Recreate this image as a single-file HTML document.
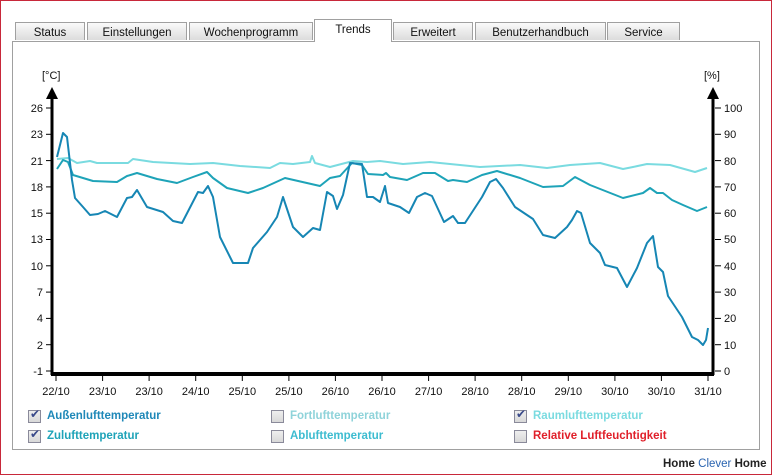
<!DOCTYPE html>
<html><head><meta charset="utf-8"><style>
html,body{margin:0;padding:0;background:#fff}
body{width:772px;height:475px;position:relative;overflow:hidden;font-family:"Liberation Sans",Arial,sans-serif}
.frame{position:absolute;left:0;top:0;width:770px;height:473px;border:1px solid #c8283a}
.tab{position:absolute;top:22px;height:18px;border:1px solid #a0a0a0;border-bottom:none;background:linear-gradient(#fafafa,#dcdcdc);font-size:11.5px;text-align:center;line-height:20px;color:#111;box-sizing:border-box}
.tab.act{top:19px;height:23px;background:#fff;line-height:20px;z-index:2}
.panel{position:absolute;left:12px;top:41px;width:748px;height:409px;border:1px solid #a0a0a0;box-sizing:border-box;background:#fff}
.leg{position:absolute;font-size:11.5px;font-weight:bold}
.cb{position:absolute;width:11px;height:11px;border:1px solid #8a8a9a;background:linear-gradient(#eee,#d8d8d8)}
.ck{position:absolute;font-size:12px;color:#3a4a8a}
</style></head><body>
<div class="frame"></div>
<div class="panel"></div>
<div class="tab" style="left:15px;width:70px">Status</div>
<div class="tab" style="left:87px;width:100px">Einstellungen</div>
<div class="tab" style="left:189px;width:124px">Wochenprogramm</div>
<div class="tab act" style="left:314px;width:78px">Trends</div>
<div class="tab" style="left:393px;width:80px">Erweitert</div>
<div class="tab" style="left:475px;width:131px">Benutzerhandbuch</div>
<div class="tab" style="left:607px;width:73px">Service</div>
<svg width="772" height="475" style="position:absolute;left:0;top:0" font-family="Liberation Sans, Arial, sans-serif" font-size="11">
<g fill="none" stroke-width="2" stroke-linejoin="round">
<polyline stroke="#7adbe0" points="57,159 68,158 77,163 90,161 97,163 128,163 133,159 153,162 190,164 213,163 240,166 270,168 280,163 293,164 310,162 312,156 315,163 330,167 353,161 367,162 380,161 403,164 430,162 480,167 520,165 547,168 570,165 600,163 623,169 633,167 647,164 670,165 695,172 707,168"/>
<polyline stroke="#1ea3b8" points="57,169 63,160 68,162 73,175 83,178 93,181 117,182 127,176 137,173 157,179 177,183 193,177 207,172 213,178 227,188 248,193 263,188 285,178 320,186 330,178 340,176 352,163 362,165 368,174 383,175 386,173 390,177 407,180 423,173 435,173 448,181 453,180 467,182 482,175 497,171 520,178 543,187 563,186 575,177 590,185 623,198 643,193 650,188 657,193 663,193 672,200 683,205 697,211 707,207"/>
<polyline stroke="#1686b4" points="57,157 63,133 67,137 72,180 75,198 83,207 90,215 98,214 105,211 117,217 127,198 132,197 137,190 147,207 163,212 173,221 182,223 198,192 203,193 208,186 213,197 220,237 233,263 248,263 253,248 267,232 277,217 283,197 293,227 303,237 313,228 320,230 327,192 333,196 337,209 343,195 350,163 362,164 367,197 373,197 380,202 385,186 388,203 400,207 409,213 417,197 425,193 432,196 444,222 453,216 458,223 465,223 482,197 490,182 496,179 503,188 515,207 533,219 543,235 555,238 567,227 572,220 577,211 581,213 590,243 600,253 605,265 617,268 627,287 637,268 647,243 653,236 658,267 663,272 668,296 682,317 692,337 698,340 703,345 706,340 708,328"/>
</g>
<g stroke="#000">
<line x1="52" y1="97" x2="52" y2="375" stroke-width="3"/>
<line x1="713" y1="97" x2="713" y2="375" stroke-width="3"/>
<line x1="51" y1="374" x2="714" y2="374" stroke-width="4"/>
</g>
<polygon points="52,87 46,99 58,99" fill="#000"/>
<polygon points="713,87 707,99 719,99" fill="#000"/>
<g stroke="#000" stroke-width="1">
<line x1="46" y1="108" x2="51" y2="108"/><line x1="46" y1="134.3" x2="51" y2="134.3"/><line x1="46" y1="160.6" x2="51" y2="160.6"/><line x1="46" y1="186.9" x2="51" y2="186.9"/><line x1="46" y1="213.2" x2="51" y2="213.2"/><line x1="46" y1="239.5" x2="51" y2="239.5"/><line x1="46" y1="265.8" x2="51" y2="265.8"/><line x1="46" y1="292.1" x2="51" y2="292.1"/><line x1="46" y1="318.4" x2="51" y2="318.4"/><line x1="46" y1="344.7" x2="51" y2="344.7"/><line x1="46" y1="371" x2="51" y2="371"/>
<line x1="715" y1="108" x2="721" y2="108"/><line x1="715" y1="134.3" x2="721" y2="134.3"/><line x1="715" y1="160.6" x2="721" y2="160.6"/><line x1="715" y1="186.9" x2="721" y2="186.9"/><line x1="715" y1="213.2" x2="721" y2="213.2"/><line x1="715" y1="239.5" x2="721" y2="239.5"/><line x1="715" y1="265.8" x2="721" y2="265.8"/><line x1="715" y1="292.1" x2="721" y2="292.1"/><line x1="715" y1="318.4" x2="721" y2="318.4"/><line x1="715" y1="344.7" x2="721" y2="344.7"/><line x1="715" y1="371" x2="721" y2="371"/>
<line x1="56" y1="376" x2="56" y2="381"/><line x1="102.6" y1="376" x2="102.6" y2="381"/><line x1="149.1" y1="376" x2="149.1" y2="381"/><line x1="195.7" y1="376" x2="195.7" y2="381"/><line x1="242.3" y1="376" x2="242.3" y2="381"/><line x1="288.9" y1="376" x2="288.9" y2="381"/><line x1="335.4" y1="376" x2="335.4" y2="381"/><line x1="382" y1="376" x2="382" y2="381"/><line x1="428.6" y1="376" x2="428.6" y2="381"/><line x1="475.1" y1="376" x2="475.1" y2="381"/><line x1="521.7" y1="376" x2="521.7" y2="381"/><line x1="568.3" y1="376" x2="568.3" y2="381"/><line x1="614.9" y1="376" x2="614.9" y2="381"/><line x1="661.4" y1="376" x2="661.4" y2="381"/><line x1="708" y1="376" x2="708" y2="381"/>
</g>
<g fill="#111" text-anchor="end">
<text x="43" y="112">26</text><text x="43" y="138">23</text><text x="43" y="165">21</text><text x="43" y="191">18</text><text x="43" y="217">15</text><text x="43" y="243">13</text><text x="43" y="270">10</text><text x="43" y="296">7</text><text x="43" y="322">4</text><text x="43" y="349">2</text><text x="43" y="375">-1</text>
</g>
<g fill="#111">
<text x="724" y="112">100</text><text x="724" y="138">90</text><text x="724" y="165">80</text><text x="724" y="191">70</text><text x="724" y="217">60</text><text x="724" y="243">50</text><text x="724" y="270">40</text><text x="724" y="296">30</text><text x="724" y="322">20</text><text x="724" y="349">10</text><text x="724" y="375">0</text>
<text x="42" y="79">[°C]</text><text x="704" y="79">[%]</text>
</g>
<g fill="#111" text-anchor="middle">
<text x="56" y="395">22/10</text><text x="102.6" y="395">23/10</text><text x="149.1" y="395">23/10</text><text x="195.7" y="395">24/10</text><text x="242.3" y="395">25/10</text><text x="288.9" y="395">25/10</text><text x="335.4" y="395">26/10</text><text x="382" y="395">26/10</text><text x="428.6" y="395">27/10</text><text x="475.1" y="395">28/10</text><text x="521.7" y="395">28/10</text><text x="568.3" y="395">29/10</text><text x="614.9" y="395">30/10</text><text x="661.4" y="395">30/10</text><text x="708" y="395">31/10</text>
</g>
</svg>
<div class="cb" style="left:28px;top:410px"></div><div class="ck" style="left:30px;top:407px">✔</div>
<div class="leg" style="left:47px;top:410px;color:#1f88b8">Außenlufttemperatur</div>
<div class="cb" style="left:28px;top:430px"></div><div class="ck" style="left:30px;top:427px">✔</div>
<div class="leg" style="left:47px;top:430px;color:#1ea3b8">Zulufttemperatur</div>
<div class="cb" style="left:271px;top:410px"></div>
<div class="leg" style="left:290px;top:410px;color:#8fd3da">Fortlufttemperatur</div>
<div class="cb" style="left:271px;top:430px"></div>
<div class="leg" style="left:290px;top:430px;color:#3dbcd0">Ablufttemperatur</div>
<div class="cb" style="left:514px;top:410px"></div><div class="ck" style="left:516px;top:407px">✔</div>
<div class="leg" style="left:533px;top:410px;color:#7adbe0">Raumlufttemperatur</div>
<div class="cb" style="left:514px;top:430px"></div>
<div class="leg" style="left:533px;top:430px;color:#e0202a">Relative Luftfeuchtigkeit</div>
<div style="position:absolute;left:663px;top:458px;font-size:11.5px;font-weight:bold;color:#222">Home <span style="color:#2a64b0;font-weight:normal">Clever</span> Home</div>
</body></html>
